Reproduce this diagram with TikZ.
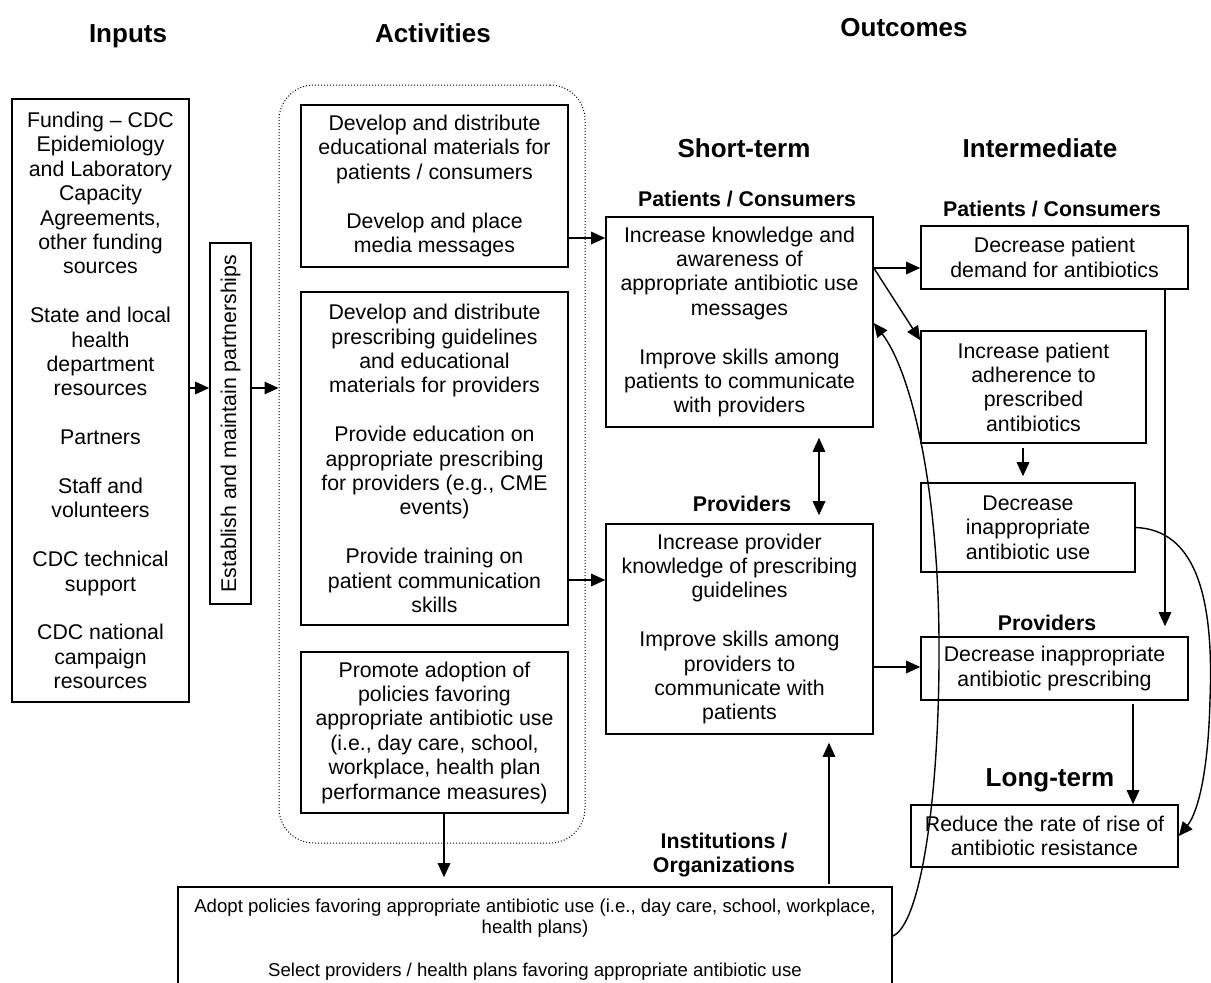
\documentclass[tikz,border=0pt]{standalone}
\usepackage{fontspec}
\setmainfont{Liberation Sans}
\usetikzlibrary{arrows.meta}
\newcommand\bodyf{\fontsize{21.3pt}{24.4pt}\selectfont}
\newcommand\smallbodyf{\fontsize{18.6pt}{21.4pt}\selectfont}
\newcommand\ttlf{\fontsize{26pt}{30pt}\selectfont\bfseries}
\newcommand\lblf{\fontsize{21.3pt}{24.4pt}\selectfont\bfseries}
\begin{document}
\begin{tikzpicture}[x=1pt,y=-1pt,
  box/.style={draw, line width=1.6pt, inner sep=0pt, align=center, font=\bodyf},
  ttl/.style={font=\ttlf, inner sep=0pt, anchor=base},
  lbl/.style={font=\lblf, inner sep=0pt, align=center},
  lblb/.style={font=\lblf, inner sep=0pt, anchor=base},
  arr/.style={line width=1.4pt, -{Triangle[length=14pt,width=12.5pt]}},
  darr/.style={line width=1.4pt, {Triangle[length=14pt,width=12.5pt]}-{Triangle[length=14pt,width=12.5pt]}}]
\useasboundingbox (0,0) rectangle (1211,983);

% titles
\node[ttl] (tin) at (128,42) {Inputs};
\node[ttl] (tact) at (433,42) {Activities};
\node[ttl] (tout) at (904,36) {Outcomes};
\node[ttl] (tshort) at (744,157) {Short-term};
\node[ttl] (tint) at (1040,157) {Intermediate};
\node[ttl] (tlong) at (1050,786) {Long-term};

% sub labels
\node[lblb] (lpc1) at (747,206) {Patients / Consumers};
\node[lblb] (lpr1) at (742,511) {Providers};
\node[lblb] (lpc2) at (1052,216) {Patients / Consumers};
\node[lblb] (lpr2) at (1047,630) {Providers};
\node[lbl] (linst) at (724,855) {Institutions /\\Organizations};

% inputs
\node[box, minimum width=177pt, minimum height=603pt] (inputs) at (100.5,400.5)
 {Funding -- CDC\\Epidemiology\\and Laboratory\\Capacity\\Agreements,\\other funding\\sources\\[24.4pt]
  State and local\\health\\department\\resources\\[24.4pt]Partners\\[24.4pt]Staff and\\volunteers\\[24.4pt]
  CDC technical\\support\\[24.4pt]CDC national\\campaign\\resources};

\node[box, minimum width=361pt, minimum height=41pt, rotate=90] (est) at (230.5,423.5)
 {Establish and maintain partnerships};

% activities
\node[draw, dotted, line width=1pt, rounded corners=35pt, minimum width=306pt, minimum height=758pt, inner sep=0pt] (actbox) at (432,464) {};
\node[box, minimum width=267pt, minimum height=162pt] (a1) at (434.5,186)
 {Develop and distribute\\educational materials for\\patients / consumers\\[24.4pt]Develop and place\\media messages};
\node[box, minimum width=267pt, minimum height=333pt] (a2) at (434.5,458.5)
 {Develop and distribute\\prescribing guidelines\\and educational\\materials for providers\\[24.4pt]
  Provide education on\\appropriate prescribing\\for providers (e.g., CME\\events)\\[24.4pt]
  Provide training on\\patient communication\\skills};
\node[box, minimum width=267pt, minimum height=161pt] (a3) at (434.5,732.5)
 {Promote adoption of\\policies favoring\\appropriate antibiotic use\\(i.e., day care, school,\\workplace, health plan\\performance measures)};

% short-term
\node[box, minimum width=267pt, minimum height=210pt] (pc) at (739.5,322)
 {Increase knowledge and\\awareness of\\appropriate antibiotic use\\messages\\[24.4pt]Improve skills among\\patients to communicate\\with providers};
\node[box, minimum width=267pt, minimum height=210pt] (prov) at (739.5,629)
 {Increase provider\\knowledge of prescribing\\guidelines\\[24.4pt]Improve skills among\\providers to\\communicate with\\patients};

% intermediate
\node[box, minimum width=267pt, minimum height=63pt] (demand) at (1054.5,257.5)
 {Decrease patient\\demand for antibiotics};
\node[box, minimum width=225pt, minimum height=112pt] (adh) at (1033.5,387)
 {Increase patient\\adherence to\\prescribed\\antibiotics};
\node[box, minimum width=214pt, minimum height=89pt] (decuse) at (1028,527.5)
 {Decrease\\inappropriate\\antibiotic use};
\node[box, minimum width=267pt, minimum height=63pt] (presc) at (1054.5,668.5)
 {Decrease inappropriate\\antibiotic prescribing};

% long-term
\node[box, minimum width=267pt, minimum height=62pt] (lt) at (1044.5,836)
 {Reduce the rate of rise of\\antibiotic resistance};

% institutions box
\node[box, font=\smallbodyf, minimum width=714pt, minimum height=105pt] (adopt) at (535,939.5)
 {Adopt policies favoring appropriate antibiotic use (i.e., day care, school, workplace,\\health plans)\\[21.4pt]
  Select providers / health plans favoring appropriate antibiotic use};

% connectors
\draw[arr] (inputs.east |- 0,388) -- (est.north |- 0,388);
\draw[arr] (est.south |- 0,388) -- (actbox.west |- 0,388);
\draw[arr] (a1.east |- 0,238) -- (pc.west |- 0,238);
\draw[arr] (a2.east |- 0,580) -- (prov.west |- 0,580);
\coordinate (cx819) at (819,0);
\draw[darr, shorten <=10pt, shorten >=8pt] (pc.south -| cx819) -- (prov.north -| cx819);
\draw[arr] (pc.east |- 0,268) -- (demand.west |- 0,268);
\draw[arr] (pc.east |- 0,268) -- ([yshift=-10pt]adh.north west);
\draw[arr] (adopt.east |- 0,936) .. controls (920,925) and (940,800) .. (939,640)
   .. controls (938,480) and (910,370) .. (pc.east |- 0,323);
\draw[arr] (prov.east |- 0,667) -- (presc.west |- 0,667);
\coordinate (cx1023) at (1023,0);
\draw[arr, shorten <=4pt, shorten >=6pt] (adh.south -| cx1023) -- (decuse.north -| cx1023);
\coordinate (cx1165) at (1165,0);
\draw[arr, shorten >=10pt] (demand.south -| cx1165) -- (presc.north -| cx1165);
\coordinate (cx1133) at (1133,0);
\draw[arr, shorten <=3pt] (presc.south -| cx1133) -- (lt.north -| cx1133);
\draw[arr] (decuse.east) .. controls (1197,530) and (1214,600) .. (1210,700)
   .. controls (1208,780) and (1196,815) .. (lt.east);
\coordinate (cx444) at (444,0);
\draw[arr, shorten >=9pt] (a3.south -| cx444) -- (adopt.north -| cx444);
\coordinate (cx829) at (829,0);
\draw[arr, shorten <=2pt, shorten >=8pt] (adopt.north -| cx829) -- (prov.south -| cx829);
\end{tikzpicture}
\end{document}
